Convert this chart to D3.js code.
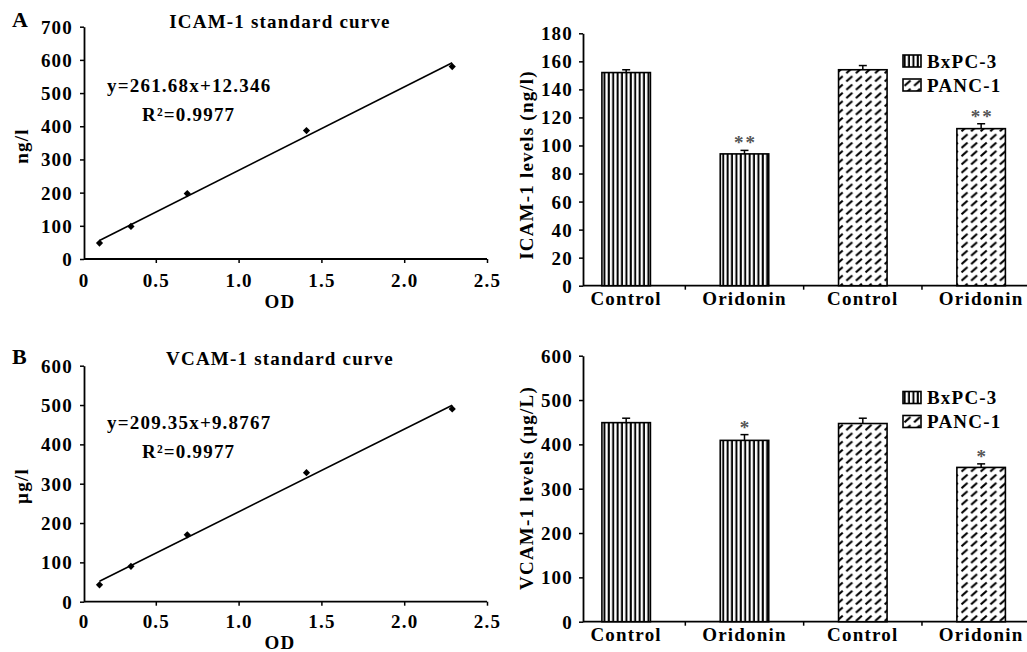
<!DOCTYPE html>
<html>
<head>
<meta charset="utf-8">
<script src="https://cdn.jsdelivr.net/npm/d3@7"></script>
<style>
	body { margin: 0; background: #fff; }
	svg text { font-family: "Liberation Serif", "Times New Roman", serif; font-weight: bold; fill: #000; letter-spacing: 1.2px; }
</style>
</head>
<body>
<svg id="fig" width="1027" height="652"></svg>
<script>
// standard curves (OD vs concentration)
var odA     = [0.16, 0.35, 0.69, 1.41, 2.29],
	icamStd = [48, 98, 197, 387, 580];
var odB     = [0.16, 0.35, 0.69, 1.41, 2.29],
	vcamStd = [43, 90, 170, 328, 490];
var odTicks = [0, 0.5, 1, 1.5, 2, 2.5];

// bar charts
var groups     = ["Control", "Oridonin", "Control", "Oridonin"],
	cellLines  = ["BxPC-3", "BxPC-3", "PANC-1", "PANC-1"],
	legendKeys = ["BxPC-3", "PANC-1"];
var icamLevels = [152, 94, 154, 112],
	icamErr    = [2, 2.5, 3, 3.5],
	icamStars  = ["", "**", "", "**"];
var vcamLevels = [449, 409, 447, 348],
	vcamErr    = [10, 13, 12, 8],
	vcamStars  = ["", "*", "", "*"];

var svg = d3.select("#fig");
svg.append("rect").attr("width", 1027).attr("height", 652).attr("fill", "#fff");

var defs = svg.append("defs");
var vStripe = defs.append("pattern")
	.attr("id", "pat-BxPC-3")
	.attr("patternUnits", "userSpaceOnUse")
	.attr("width", 4.4).attr("height", 10);
vStripe.append("rect").attr("width", 4.4).attr("height", 10).attr("fill", "#fff");
vStripe.append("rect").attr("x", 0.6).attr("width", 2).attr("height", 10).attr("fill", "#000");

var dHatch = defs.append("pattern")
	.attr("id", "pat-PANC-1")
	.attr("patternUnits", "userSpaceOnUse")
	.attr("width", 9.6).attr("height", 8.3);
dHatch.append("rect").attr("width", 9.6).attr("height", 8.3).attr("fill", "#fff");
dHatch.append("line")
	.attr("x1", 1.5).attr("y1", 6.8).attr("x2", 7.5).attr("y2", 1.5)
	.attr("stroke", "#000").attr("stroke-width", 2);

function styleAxis(g, size) {
	g.select(".domain").attr("stroke-width", 1.8)
	g.selectAll(".tick line").attr("stroke-width", 1.5)
	g.selectAll(".tick text").style("font-size", size + "px")
}

// least squares fit through the read points
function fit(xs, ys) {
	var mx = d3.mean(xs), my = d3.mean(ys)
	var b = d3.sum(xs, function(v, i){ return (v - mx) * (ys[i] - my) }) /
			d3.sum(xs, function(v){ return (v - mx) * (v - mx) })
	return {a: my - b * mx, b: b}
}

function drawCurve(cfg) {
	var axisX = 84
	var x = d3.scaleLinear().domain([0, 2.5]).range([73, 487])
	var y = d3.scaleLinear().domain([0, cfg.yMax]).range([cfg.y0, cfg.yTop])
	var g = svg.append("g")

	var yAxis = g.append("g")
		.attr("transform", "translate(" + axisX + ",0)")
		.call(d3.axisLeft(y).tickValues(d3.range(0, cfg.yMax + 1, 100)).tickSize(4).tickSizeOuter(0).tickPadding(7))
	styleAxis(yAxis, 19)
	yAxis.selectAll(".tick text").attr("dy", "0.34em")

	var xAxis = g.append("g")
		.attr("transform", "translate(0," + cfg.y0 + ")")
		.call(d3.axisBottom(x).tickValues(odTicks.slice(1)).tickSize(4).tickSizeOuter(0))
	xAxis.select(".domain").remove()
	styleAxis(xAxis, 19)
	xAxis.selectAll(".tick text").attr("y", cfg.tickBase).attr("dy", 0)
	xAxis.append("line")
		.attr("x1", axisX).attr("x2", x(2.5))
		.attr("stroke", "#000").attr("stroke-width", 1.8)
	xAxis.append("text")
		.attr("x", axisX).attr("y", cfg.tickBase)
		.attr("text-anchor", "middle")
		.style("font-size", "19px")
		.text(odTicks[0])

	// regression line and points
	var f = fit(cfg.od, cfg.conc)
	var ext = d3.extent(cfg.od)
	g.append("line")
		.attr("x1", x(ext[0])).attr("y1", y(f.a + f.b * ext[0]))
		.attr("x2", x(ext[1])).attr("y2", y(f.a + f.b * ext[1]))
		.attr("stroke", "#000").attr("stroke-width", 1.6)

	g.selectAll(".pt")
		.data(cfg.od)
		.enter()
		.append("path")
		.attr("class", "pt")
		.attr("d", d3.symbol(d3.symbolSquare, 26))
		.attr("transform", function(d, i){ return "translate(" + x(d) + "," + y(cfg.conc[i]) + ") rotate(45)" })
		.attr("fill", "#000")

	g.append("text")
		.attr("x", 280).attr("y", cfg.titleY)
		.attr("text-anchor", "middle")
		.style("font-size", "19px")
		.text(cfg.title)
	g.append("text")
		.attr("x", 12).attr("y", cfg.titleY - 1)
		.style("font-size", "22px")
		.text(cfg.letter)
	g.append("text")
		.attr("x", 280).attr("y", cfg.y0 + cfg.tickBase + 21)
		.attr("text-anchor", "middle")
		.style("font-size", "19px")
		.text("OD")
	g.append("text")
		.attr("transform", "translate(28," + cfg.labelMid + ") rotate(-90)")
		.attr("text-anchor", "middle")
		.style("font-size", "19px")
		.text(cfg.yLabel)
	g.append("text")
		.attr("x", 107).attr("y", cfg.eqY)
		.style("font-size", "19px")
		.text(cfg.eq)
	g.append("text")
		.attr("x", 142).attr("y", cfg.eqY + 29)
		.style("font-size", "19px")
		.text(cfg.r2)
}

function drawBars(cfg) {
	var axisX = 583
	var x = d3.scaleBand().domain(d3.range(groups.length)).range([567, 1040.3]).paddingInner(0.59).paddingOuter(0.295)
	var y = d3.scaleLinear().domain([0, cfg.yMax]).range([cfg.y0, cfg.yTop])
	var g = svg.append("g")

	var yAxis = g.append("g")
		.attr("transform", "translate(" + axisX + ",0)")
		.call(d3.axisLeft(y).tickValues(d3.range(0, cfg.yMax + 1, cfg.step)).tickSize(4).tickSizeOuter(0).tickPadding(6))
	styleAxis(yAxis, 19)
	yAxis.selectAll(".tick text").attr("dy", "0.34em")

	// category axis: boundary ticks between groups
	g.append("line")
		.attr("x1", axisX).attr("x2", 1027)
		.attr("y1", cfg.y0).attr("y2", cfg.y0)
		.attr("stroke", "#000").attr("stroke-width", 1.8)
	g.selectAll(".sep")
		.data(d3.range(groups.length - 1))
		.enter()
		.append("line")
		.attr("class", "sep")
		.attr("x1", function(i){ return x(i) + x.step() - x.step() * 0.295 })
		.attr("x2", function(i){ return x(i) + x.step() - x.step() * 0.295 })
		.attr("y1", cfg.y0).attr("y2", cfg.y0 + 4)
		.attr("stroke", "#000").attr("stroke-width", 1.5)

	g.selectAll(".bar")
		.data(cfg.values)
		.enter()
		.append("rect")
		.attr("class", "bar")
		.attr("x", function(d, i){ return x(i) })
		.attr("width", x.bandwidth())
		.attr("y", function(d){ return y(d) })
		.attr("height", function(d){ return cfg.y0 - y(d) })
		.attr("fill", function(d, i){ return "url(#pat-" + cellLines[i] + ")" })
		.attr("stroke", "#000").attr("stroke-width", 1.6)

	// upper error bars
	cfg.values.forEach(function(v, i){
		var cx = x(i) + x.bandwidth() / 2
		g.append("line")
			.attr("x1", cx).attr("x2", cx)
			.attr("y1", y(v)).attr("y2", y(v + cfg.err[i]))
			.attr("stroke", "#000").attr("stroke-width", 1.5)
		g.append("line")
			.attr("x1", cx - 4).attr("x2", cx + 4)
			.attr("y1", y(v + cfg.err[i])).attr("y2", y(v + cfg.err[i]))
			.attr("stroke", "#000").attr("stroke-width", 1.5)
		if (cfg.stars[i]) {
			g.append("text")
				.attr("x", cx + 1).attr("y", y(v + cfg.err[i]) - 1)
				.attr("text-anchor", "middle")
				.style("font-size", "19px")
				.style("fill", "#555")
				.style("letter-spacing", "2px")
				.text(cfg.stars[i])
		}
	})

	g.selectAll(".cat")
		.data(groups)
		.enter()
		.append("text")
		.attr("class", "cat")
		.attr("x", function(d, i){ return x(i) + x.bandwidth() / 2 })
		.attr("y", cfg.y0 + 19.5)
		.attr("text-anchor", "middle")
		.style("font-size", "19px")
		.text(function(d){ return d })

	g.append("text")
		.attr("transform", "translate(533," + cfg.labelMid + ") rotate(-90)")
		.attr("text-anchor", "middle")
		.style("font-size", "19px")
		.text(cfg.yLabel)

	// legend
	var leg = g.selectAll(".leg")
		.data(legendKeys)
		.enter()
		.append("g")
		.attr("class", "leg")
		.attr("transform", function(d, i){ return "translate(903," + (cfg.legendY + i * 24) + ")" })
	leg.append("rect")
		.attr("width", 18).attr("height", 12)
		.attr("fill", function(d){ return "url(#pat-" + d + ")" })
		.attr("stroke", "#000").attr("stroke-width", 1.6)
	leg.append("text")
		.attr("x", 24).attr("y", 12.5)
		.style("font-size", "19px")
		.text(function(d){ return d })
}

drawCurve({letter: "A", title: "ICAM-1 standard curve", yLabel: "ng/l",
	od: odA, conc: icamStd, yMax: 700, y0: 259, yTop: 26.7, tickBase: 27.5,
	titleY: 27.5, labelMid: 146, eq: "y=261.68x+12.346", r2: "R\u00b2=0.9977", eqY: 92})
drawCurve({letter: "B", title: "VCAM-1 standard curve", yLabel: "\u00b5g/l",
	od: odB, conc: vcamStd, yMax: 600, y0: 601.7, yTop: 365.7, tickBase: 26,
	titleY: 365, labelMid: 486, eq: "y=209.35x+9.8767", r2: "R\u00b2=0.9977", eqY: 429})

drawBars({values: icamLevels, err: icamErr, stars: icamStars, yMax: 180, step: 20,
	y0: 285.7, yTop: 33.3, labelMid: 165, legendY: 55, yLabel: "ICAM-1 levels (ng/l)"})
drawBars({values: vcamLevels, err: vcamErr, stars: vcamStars, yMax: 600, step: 100,
	y0: 621.7, yTop: 355.7, labelMid: 488, legendY: 391.5, yLabel: "VCAM-1 levels (\u00b5g/L)"})
</script>
</body>
</html>
